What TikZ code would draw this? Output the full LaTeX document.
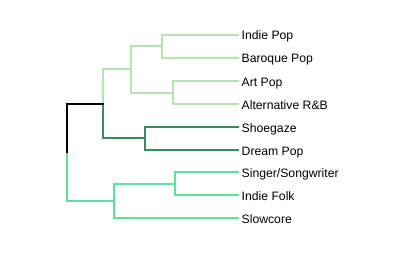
\documentclass[tikz,border=0pt]{standalone}
\usepackage{fontspec}
\setmainfont{Liberation Sans}
\begin{document}
\begin{tikzpicture}[x=1pt,y=-1pt,
  lbl/.style={anchor=base west,inner sep=0pt,font=\fontsize{12.2}{14}\selectfont},
  link/.style={line width=2pt,line cap=rect,line join=miter}]
\definecolor{cpale}{HTML}{B3E5AE}
\definecolor{cdark}{HTML}{3B8A5A}
\definecolor{cmint}{HTML}{5CE39A}
\useasboundingbox (0,0) rectangle (399,254);
% leaf ends
\foreach \n/\y in {a/34.7,b/57.7,c/81,d/104,e/126.7,f/149.7,g/172,h/195,i/217.7}
  \coordinate (\n) at (238,\y);
% labels, baseline a little below each leaf line
\foreach \n/\t in {a/{Indie Pop},b/{Baroque Pop},c/{Art Pop},d/{Alternative R\&B},e/{Shoegaze},
                   f/{Dream Pop},g/{Singer/Songwriter},h/{Indie Folk},i/{Slowcore}}
  \node[lbl] (l\n) at ([shift={(3.5,5.3)}]\n) {\t};
% inner joints
\coordinate (ab) at (161.7,46.2);
\coordinate (cd) at (173.3,92.5);
\coordinate (abcd) at (130.7,69.3);
\coordinate (ef) at (145,138.2);
\coordinate (top) at (103,103.8);
\coordinate (gh) at (175,183.5);
\coordinate (ghi) at (114,200.6);
\coordinate (root) at (67,152.2);
% pale cluster
\draw[link,cpale] (a) -| (ab) |- (b);
\draw[link,cpale] (c) -| (cd) |- (d);
\draw[link,cpale] (ab) -| (abcd) |- (cd);
\draw[link,cpale] (abcd) -| (top);
% dark cluster
\draw[link,cdark] (e) -| (ef) |- (f);
\draw[link,cdark] (top) |- (ef);
% mint cluster
\draw[link,cmint] (g) -| (gh) |- (h);
\draw[link,cmint] (gh) -| (ghi) |- (i);
\draw[link,cmint] (root) |- (ghi);
% root link
\draw[link,black] (top) -| (root);
\end{tikzpicture}
\end{document}
